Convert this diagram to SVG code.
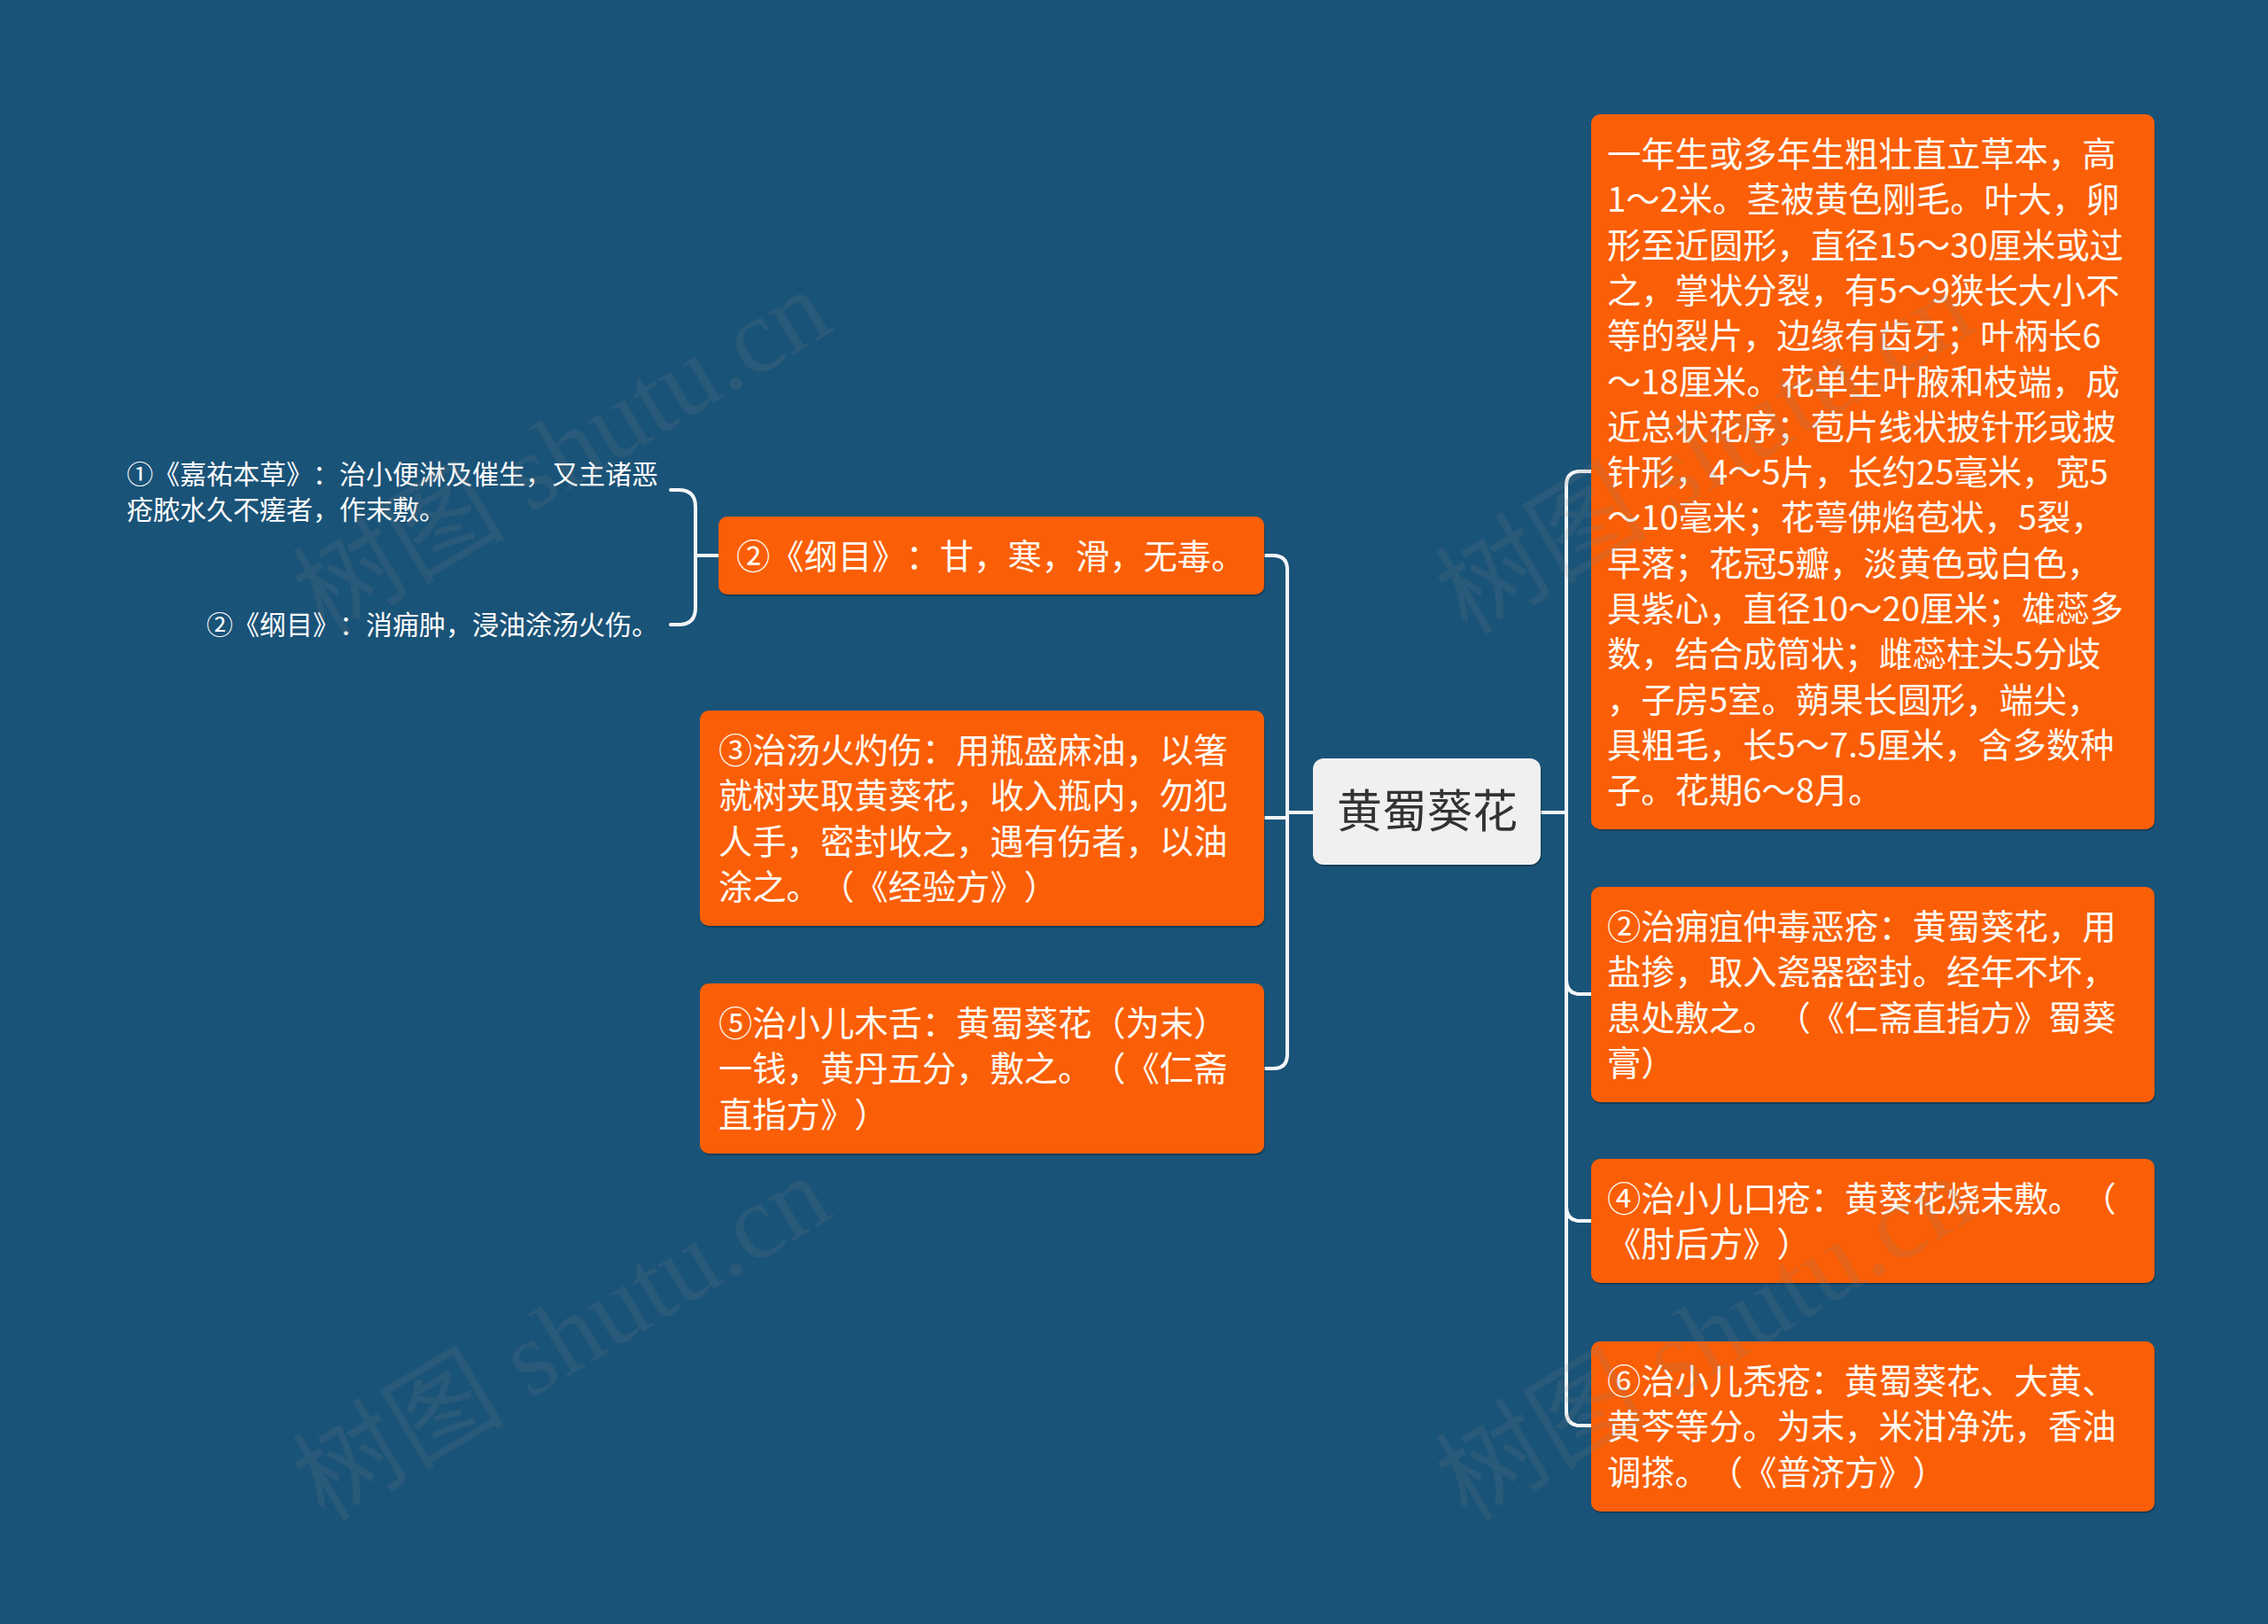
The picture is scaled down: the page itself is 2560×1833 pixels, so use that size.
<svg xmlns="http://www.w3.org/2000/svg" width="2560" height="1833" viewBox="0 0 2560 1833">
<defs>
<style>
text{text-spacing-trim:space-all;font-kerning:none}
.bg{fill:#1a5378}
.box{fill:#fa5f07}
.sh{fill:#0e2f45;opacity:0.55}
.t{font-family:"Noto Sans CJK SC","Noto Sans",sans-serif;font-size:38.3px;fill:#fffaf2}
.s{font-family:"Noto Sans CJK SC","Noto Sans",sans-serif;font-size:30px;fill:#ffffff}
.c{font-family:"Noto Sans CJK SC","Noto Sans",sans-serif;font-size:51px;fill:#333333}
.ln{fill:none;stroke:#f3f6f8;stroke-width:4;stroke-linecap:round}
.wm{font-family:"Liberation Serif","Noto Sans CJK SC",serif;font-size:120px;fill:#7f7f7f;opacity:0.16}
</style>
</defs>
<rect class="bg" x="0" y="0" width="2560" height="1833"/>

<g id="connectors">
<path class="ln" d="M1482,917 H1453"/>
<path class="ln" d="M1453,917 V643 Q1453,627 1437,627 H1427"/>
<path class="ln" d="M1453,917 V923 H1427"/>
<path class="ln" d="M1453,917 V1190 Q1453,1206 1437,1206 H1427"/>
<path class="ln" d="M811,627 H785"/>
<path class="ln" d="M785,627 V572 Q785,553 766,553 H757"/>
<path class="ln" d="M785,627 V686 Q785,705 766,705 H757"/>
<path class="ln" d="M1739,917 H1768"/>
<path class="ln" d="M1768,917 V548 Q1768,532 1784,532 H1796"/>
<path class="ln" d="M1768,917 V1106 Q1768,1122 1784,1122 H1796"/>
<path class="ln" d="M1768,917 V1362 Q1768,1378 1784,1378 H1796"/>
<path class="ln" d="M1768,917 V1593 Q1768,1609 1784,1609 H1796"/>
</g>

<g id="center">
<rect class="sh" x="1483" y="858" width="257" height="120" rx="12"/>
<rect x="1482" y="856" width="257" height="120" rx="12" fill="#f0f0f0"/>
<text class="c" x="1611" y="934" text-anchor="middle">黄蜀葵花</text>
</g>

<g id="L1">
<rect class="sh" x="812" y="585" width="616" height="88" rx="10"/>
<rect class="box" x="811" y="583" width="616" height="88" rx="10"/>
<text class="t" x="831" y="642">②《纲目》：甘，寒，滑，无毒。</text>
</g>

<g id="L1a">
<text class="s" x="143" y="546">①《嘉祐本草》：治小便淋及催生，又主诸恶</text>
<text class="s" x="143" y="586">疮脓水久不瘥者，作末敷。</text>
</g>

<g id="L1b">
<text class="s" x="233" y="716">②《纲目》：消痈肿，浸油涂汤火伤。</text>
</g>

<g id="L2">
<rect class="sh" x="791" y="804" width="637" height="243" rx="10"/>
<rect class="box" x="790" y="802" width="637" height="243" rx="10"/>
<text class="t" x="811" y="861">③治汤火灼伤：用瓶盛麻油，以箸</text>
<text class="t" x="811" y="912.3">就树夹取黄葵花，收入瓶内，勿犯</text>
<text class="t" x="811" y="963.6">人手，密封收之，遇有伤者，以油</text>
<text class="t" x="811" y="1015">涂之。（《经验方》）</text>
</g>

<g id="L3">
<rect class="sh" x="791" y="1112" width="637" height="192" rx="10"/>
<rect class="box" x="790" y="1110" width="637" height="192" rx="10"/>
<text class="t" x="811" y="1169">⑤治小儿木舌：黄蜀葵花（为末）</text>
<text class="t" x="811" y="1220.3">一钱，黄丹五分，敷之。（《仁斋</text>
<text class="t" x="811" y="1271.6">直指方》）</text>
</g>

<g id="R1">
<rect class="sh" x="1797" y="131" width="636" height="807" rx="10"/>
<rect class="box" x="1796" y="129" width="636" height="807" rx="10"/>
<text class="t" x="1814" y="188">一年生或多年生粗壮直立草本，高</text>
<text class="t" x="1814" y="239.3">1～2米。茎被黄色刚毛。叶大，卵</text>
<text class="t" x="1814" y="290.6">形至近圆形，直径15～30厘米或过</text>
<text class="t" x="1814" y="341.9">之，掌状分裂，有5～9狭长大小不</text>
<text class="t" x="1814" y="393.2">等的裂片，边缘有齿牙；叶柄长6</text>
<text class="t" x="1814" y="444.5">～18厘米。花单生叶腋和枝端，成</text>
<text class="t" x="1814" y="495.8">近总状花序；苞片线状披针形或披</text>
<text class="t" x="1814" y="547.1">针形，4～5片，长约25毫米，宽5</text>
<text class="t" x="1814" y="598.4">～10毫米；花萼佛焰苞状，5裂，</text>
<text class="t" x="1814" y="649.7">早落；花冠5瓣，淡黄色或白色，</text>
<text class="t" x="1814" y="701">具紫心，直径10～20厘米；雄蕊多</text>
<text class="t" x="1814" y="752.3">数，结合成筒状；雌蕊柱头5分歧</text>
<text class="t" x="1814" y="803.6">，子房5室。蒴果长圆形，端尖，</text>
<text class="t" x="1814" y="854.9">具粗毛，长5～7.5厘米，含多数种</text>
<text class="t" x="1814" y="906.2">子。花期6～8月。</text>
</g>

<g id="R2">
<rect class="sh" x="1797" y="1003" width="636" height="243" rx="10"/>
<rect class="box" x="1796" y="1001" width="636" height="243" rx="10"/>
<text class="t" x="1814" y="1060">②治痈疽仲毒恶疮：黄蜀葵花，用</text>
<text class="t" x="1814" y="1111.3">盐掺，取入瓷器密封。经年不坏，</text>
<text class="t" x="1814" y="1162.6">患处敷之。（《仁斋直指方》蜀葵</text>
<text class="t" x="1814" y="1213.9">膏）</text>
</g>

<g id="R3">
<rect class="sh" x="1797" y="1310" width="636" height="140" rx="10"/>
<rect class="box" x="1796" y="1308" width="636" height="140" rx="10"/>
<text class="t" x="1814" y="1367">④治小儿口疮：黄葵花烧末敷。（</text>
<text class="t" x="1814" y="1418.3">《肘后方》）</text>
</g>

<g id="R4">
<rect class="sh" x="1797" y="1516" width="636" height="192" rx="10"/>
<rect class="box" x="1796" y="1514" width="636" height="192" rx="10"/>
<text class="t" x="1814" y="1573">⑥治小儿秃疮：黄蜀葵花、大黄、</text>
<text class="t" x="1814" y="1624.3">黄芩等分。为末，米泔净洗，香油</text>
<text class="t" x="1814" y="1675.6">调搽。（《普济方》）</text>
</g>

<g id="watermarks">
<text class="wm" transform="translate(655,545) rotate(-31)" text-anchor="middle">树图 shutu.cn</text>
<text class="wm" transform="translate(655,1545) rotate(-31)" text-anchor="middle">树图 shutu.cn</text>
<text class="wm" transform="translate(1945,545) rotate(-31)" text-anchor="middle">树图 shutu.cn</text>
<text class="wm" transform="translate(1945,1545) rotate(-31)" text-anchor="middle">树图 shutu.cn</text>
</g>
</svg>
